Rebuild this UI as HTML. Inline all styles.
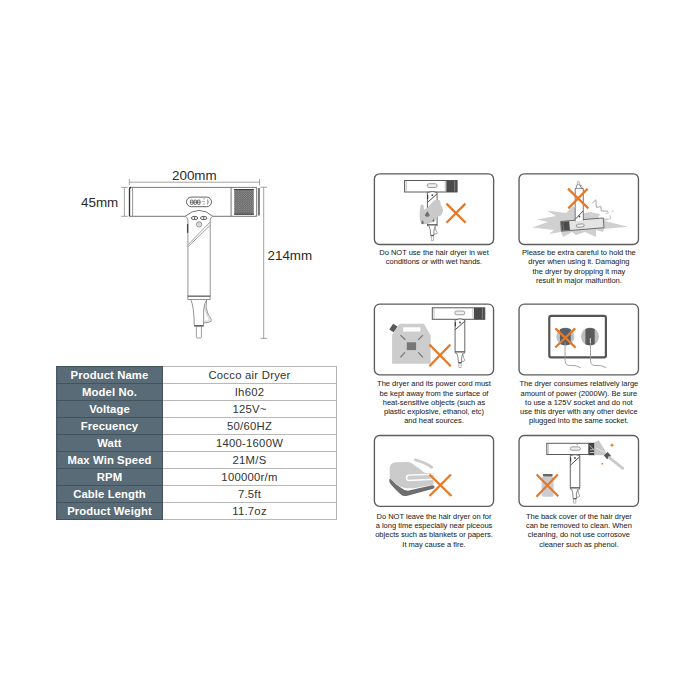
<!DOCTYPE html>
<html><head><meta charset="utf-8">
<style>
html,body{margin:0;padding:0;background:#fff;}
body{width:700px;height:700px;position:relative;overflow:hidden;font-family:"Liberation Sans",sans-serif;}
.abs{position:absolute;}
#draw{position:absolute;left:0;top:0;}
.dim{position:absolute;font-size:13.4px;color:#2a2a2a;white-space:nowrap;line-height:1;}
#spec{position:absolute;left:0;top:0;}
#spec .kbg{position:absolute;left:56px;top:365.7px;width:107px;height:153.7px;background:#596b77;box-shadow:inset 1.5px 0 0 #4d5b64;}
#spec .k,#spec .v{position:absolute;height:17px;line-height:18px;text-align:center;font-size:11.3px;white-space:nowrap;}
#spec .k{left:56px;width:107px;color:#fff;font-weight:bold;letter-spacing:0.1px;}
#spec .v{left:163px;width:173px;color:#333;letter-spacing:0.25px;}
#spec .hl{position:absolute;left:56px;width:280.3px;height:1.2px;background:linear-gradient(to right,#44525c 0,#44525c 107px,#b8b8b8 107px,#b8b8b8 100%);}
#spec .vr{position:absolute;left:335.5px;top:365.7px;width:1.2px;height:154px;background:#b4b4b4;}
#spec .vl{position:absolute;left:162.3px;top:365.7px;width:1px;height:154px;background:#44525c;}
.box{position:absolute;border:1.3px solid #606060;border-radius:6px;box-sizing:border-box;background:#fff;}
.cap{position:absolute;width:140px;text-align:center;font-size:7.5px;line-height:9.25px;color:#262626;white-space:nowrap;-webkit-text-stroke:0.05px #262626;}
</style></head><body>

<!-- Dimension labels -->
<div class="dim" style="left:172px;top:169px;">200mm</div>
<div class="dim" style="left:81px;top:196.4px;">45mm</div>
<div class="dim" style="left:267.5px;top:249px;">214mm</div>

<!-- Spec table -->
<div id="spec">
<div class="kbg"></div>
<div class="k" style="top:366.30px">Product Name</div><div class="v" style="top:366.30px">Cocco air Dryer</div>
<div class="k" style="top:383.31px">Model No.</div><div class="v" style="top:383.31px">Ih602</div>
<div class="k" style="top:400.32px">Voltage</div><div class="v" style="top:400.32px">125V~</div>
<div class="k" style="top:417.33px">Frecuency</div><div class="v" style="top:417.33px">50/60HZ</div>
<div class="k" style="top:434.34px">Watt</div><div class="v" style="top:434.34px">1400-1600W</div>
<div class="k" style="top:451.35px">Max Win Speed</div><div class="v" style="top:451.35px">21M/S</div>
<div class="k" style="top:468.36px">RPM</div><div class="v" style="top:468.36px">100000r/m</div>
<div class="k" style="top:485.37px">Cable Length</div><div class="v" style="top:485.37px">7.5ft</div>
<div class="k" style="top:502.38px">Product Weight</div><div class="v" style="top:502.38px">11.7oz</div>
<div class="hl" style="top:365.70px"></div>
<div class="hl" style="top:382.71px"></div>
<div class="hl" style="top:399.72px"></div>
<div class="hl" style="top:416.73px"></div>
<div class="hl" style="top:433.74px"></div>
<div class="hl" style="top:450.75px"></div>
<div class="hl" style="top:467.76px"></div>
<div class="hl" style="top:484.77px"></div>
<div class="hl" style="top:501.78px"></div>
<div class="hl" style="top:518.79px"></div>
<div class="vr"></div><div class="vl"></div></div>


<!-- Captions -->
<div class="cap" style="left:364px;top:248px;">Do NOT use the hair dryer in wet</div>
<div class="cap" style="left:364px;top:257px;">conditions or with wet hands.</div>
<div class="cap" style="left:508.9px;top:248px;">Please be extra careful to hold the</div>
<div class="cap" style="left:508.9px;top:257px;">dryer when using it. Damaging</div>
<div class="cap" style="left:508.9px;top:267px;">the dryer by dropping it may</div>
<div class="cap" style="left:508.9px;top:276px;">result in major malfuntion.</div>
<div class="cap" style="left:364px;top:379px;">The dryer and its power cord must</div>
<div class="cap" style="left:364px;top:389px;">be kept away from the surface of</div>
<div class="cap" style="left:364px;top:398px;">heat-sensitive objects (such as</div>
<div class="cap" style="left:364px;top:407px;">plastic explosive, ethanol, etc)</div>
<div class="cap" style="left:364px;top:416px;">and heat sources.</div>
<div class="cap" style="left:508.9px;top:379px;">The dryer consumes relatively large</div>
<div class="cap" style="left:508.9px;top:389px;">amount of power (2000W). Be sure</div>
<div class="cap" style="left:508.9px;top:398px;">to use a 125V socket and do not</div>
<div class="cap" style="left:508.9px;top:407px;">use this dryer with any other device</div>
<div class="cap" style="left:508.9px;top:416px;">plugged into the same socket.</div>
<div class="cap" style="left:364px;top:512px;">Do NOT leave the hair dryer on for</div>
<div class="cap" style="left:364px;top:521px;">a long time especially near piceous</div>
<div class="cap" style="left:364px;top:530px;">objects such as blankets or papers.</div>
<div class="cap" style="left:364px;top:540px;">It may cause a fire.</div>
<div class="cap" style="left:508.9px;top:512px;">The back cover of the hair dryer</div>
<div class="cap" style="left:508.9px;top:521px;">can be removed to clean. When</div>
<div class="cap" style="left:508.9px;top:530px;">cleaning, do not use corrosove</div>
<div class="cap" style="left:508.9px;top:540px;">cleaner such as phenol.</div>

<svg id="draw" width="700" height="700" viewBox="0 0 700 700">
<g id="boxes" fill="none" stroke="#5c5c5c" stroke-width="1.35"><rect x="374.4" y="173.8" width="119.20" height="70.70" rx="5.2"/><rect x="519.05" y="173.8" width="119.40" height="70.70" rx="5.2"/><rect x="374.4" y="304.1" width="119.15" height="70.70" rx="5.2"/><rect x="519.05" y="304.1" width="119.40" height="70.70" rx="5.2"/><rect x="374.4" y="435.5" width="119.15" height="70.80" rx="5.2"/><rect x="519.05" y="435.5" width="119.45" height="70.80" rx="5.2"/></g>
<g id="dryer" fill="none" stroke-linecap="butt">
  <!-- dimension lines -->
  <g stroke="#8a8a8a" stroke-width="0.8">
    <line x1="129.3" y1="182.2" x2="259.6" y2="182.2"/>
    <line x1="129.3" y1="179" x2="129.3" y2="185"/>
    <line x1="259.6" y1="179" x2="259.6" y2="185.5"/>
    <line x1="124.4" y1="187.4" x2="124.4" y2="216.3"/>
    <line x1="121.2" y1="187.4" x2="127.6" y2="187.4"/>
    <line x1="121.2" y1="216.3" x2="127.6" y2="216.3"/>
    <line x1="263.7" y1="187.2" x2="263.7" y2="338.4"/>
    <line x1="260.3" y1="187.2" x2="267" y2="187.2"/>
    <line x1="260.6" y1="338.4" x2="267.1" y2="338.4"/>
  </g>
  <!-- body -->
  <g stroke="#666" stroke-width="0.9">
    <line x1="129.4" y1="187.4" x2="256.7" y2="187.4"/>
    <line x1="129.4" y1="216.3" x2="185.3" y2="216.3"/>
    <line x1="212.9" y1="216.3" x2="256.7" y2="216.3"/>
    <line x1="132.6" y1="187.4" x2="132.6" y2="216.3" stroke="#888"/>
    <line x1="231.1" y1="187.4" x2="231.1" y2="216.3"/>
    <line x1="256.7" y1="187.4" x2="256.7" y2="216.3"/>
  </g>
  <path d="M129.5 216.3 V189 Q129.5 187.5 131 187.5" stroke="#333" stroke-width="1.3"/>
  <!-- grille -->
  <defs><pattern id="mesh" x="234.2" y="189.5" width="2.4" height="2.2" patternUnits="userSpaceOnUse">
    <rect width="2.4" height="2.2" fill="#5e5e5e"/><ellipse cx="0.6" cy="0.55" rx="0.6" ry="0.5" fill="#a8a8a8"/><ellipse cx="1.8" cy="1.65" rx="0.6" ry="0.5" fill="#a8a8a8"/>
  </pattern></defs>
  <rect x="234.2" y="189" width="19.6" height="25.7" fill="url(#mesh)"/>
  <rect x="234.2" y="189" width="19.6" height="1" fill="#3a3a3a"/>
  <rect x="234.2" y="213.7" width="19.6" height="1" fill="#3a3a3a"/>
  <!-- end cap -->
  <rect x="258" y="188" width="1.9" height="27.6" fill="#777"/>
  <!-- display -->
  <rect x="186.5" y="197.1" width="25" height="9.6" rx="4.8" stroke="#555" stroke-width="0.9"/>
  <rect x="190.4" y="200" width="2.7" height="4.4" rx="1.1" stroke="#444" stroke-width="0.8" fill="none"/><line x1="190.4" y1="202.2" x2="193.1" y2="202.2" stroke="#444" stroke-width="0.7"/><rect x="193.9" y="200" width="2.7" height="4.4" rx="1.1" stroke="#444" stroke-width="0.8" fill="none"/><line x1="193.9" y1="202.2" x2="196.6" y2="202.2" stroke="#444" stroke-width="0.7"/><rect x="197.4" y="200" width="2.7" height="4.4" rx="1.1" stroke="#444" stroke-width="0.8" fill="none"/><line x1="197.4" y1="202.2" x2="200.1" y2="202.2" stroke="#444" stroke-width="0.7"/>
  <g stroke="#777" stroke-width="0.6"><line x1="201.8" y1="201.5" x2="205" y2="201.5"/><line x1="203" y1="199" x2="205" y2="199"/><line x1="203" y1="204" x2="205" y2="204"/></g>
  <path d="M207.5 199.5 Q208.8 201.8 207.5 204.3" stroke="#555" stroke-width="0.8"/>
  <!-- handle -->
  <path d="M185.1 216.3 Q199.2 204.5 212.9 216.3" stroke="#666" stroke-width="0.9"/>
  <path d="M185.1 216.3 Q187.9 217.5 187.9 220 V296.1" stroke="#888" stroke-width="0.9"/>
  <path d="M212.9 216.3 Q210.2 217.5 210.2 220 V296.1" stroke="#888" stroke-width="0.9"/>
  <line x1="187.6" y1="224" x2="187.6" y2="232.8" stroke="#444" stroke-width="1.3"/>
  <path d="M188.2 244.6 L210.1 222.1 M188.2 246.6 L210.1 225.4" stroke="#888" stroke-width="0.8"/>
  <g stroke="#333" stroke-width="0.8">
    <ellipse cx="194.6" cy="218" rx="3.3" ry="1.6"/><ellipse cx="203.7" cy="218" rx="3.3" ry="1.6"/>
    <line x1="194.6" y1="216.6" x2="194.6" y2="219.4"/><line x1="203.7" y1="216.6" x2="203.7" y2="219.4"/>
  </g>
  <circle cx="199.1" cy="224.4" r="2.6" stroke="#555" stroke-width="0.7"/>
  <path d="M198.2 223.3 A1.2 1.2 0 1 0 200 223.3 M199.1 222.8 V224.2" stroke="#888" stroke-width="0.5"/>
  <!-- collar / neck / cable -->
  <rect x="187.9" y="296.1" width="22.2" height="3.3" stroke="#777" stroke-width="0.8"/>
  <line x1="187.9" y1="296.2" x2="210.1" y2="296.2" stroke="#444" stroke-width="0.8"/>
  <path d="M190.7 299.5 Q194 306 194.3 325.8 H203.6 V310 Q204.5 302 207.1 299.5" stroke="#777" stroke-width="0.8"/>
  <line x1="194.3" y1="325.9" x2="203.6" y2="325.9" stroke="#444" stroke-width="1.2"/>
  <path d="M196.4 326.5 V337.2 Q196.4 338 197.2 338 H200.6 Q201.4 338 201.4 337.2 V326.5" stroke="#888" stroke-width="0.8"/>
  <path d="M206.4 300.7 Q205 308 208 314 Q212 319.5 211 321.3 Q209 323 203.6 322.9" stroke="#777" stroke-width="0.8"/>
  <path d="M204.2 305 Q204.8 310 207.2 315 Q210 319.5 209.2 320.5 Q207.5 321.5 203.6 321.3" stroke="#999" stroke-width="0.5"/>
</g>
<defs>
  <g id="dry">
    <rect x="0.5" y="0.5" width="52.5" height="11.5" fill="#fff" stroke="#585858" stroke-width="1"/>
    <line x1="2.2" y1="1" x2="2.2" y2="11.5" stroke="#999" stroke-width="0.6"/>
    <line x1="41.2" y1="1" x2="41.2" y2="11.5" stroke="#999" stroke-width="0.7"/>
    <rect x="42.2" y="0.5" width="10.8" height="11.5" fill="#4a4a4a"/>
    <line x1="50.6" y1="1" x2="50.6" y2="11.5" stroke="#aaa" stroke-width="0.6"/>
    <rect x="23" y="3.7" width="10" height="3.8" rx="1.9" fill="#eee" stroke="#777" stroke-width="0.7"/>
    <path d="M23.3 12.5 Q28.2 10.6 33 12.5 V44.5 H23.3 Z" fill="#fff" stroke="#555" stroke-width="0.9"/>
    <line x1="23.6" y1="22.3" x2="32.8" y2="14" stroke="#333" stroke-width="0.9"/>
    <line x1="23.6" y1="15" x2="23.6" y2="19" stroke="#333" stroke-width="1.1"/>
    <circle cx="28.2" cy="15.2" r="0.9" fill="#444"/>
    <rect x="23.3" y="44.5" width="9.7" height="1.2" fill="#fff" stroke="#555" stroke-width="0.7"/>
    <path d="M24.8 45.8 Q26.5 49 26.6 55.3 H29.8 V51 Q30.3 47 31.4 45.8" fill="#fff" stroke="#555" stroke-width="0.7"/>
    <path d="M31 46.5 Q31.5 51 33.2 52.8 Q33 54.3 29.8 54.2" fill="none" stroke="#666" stroke-width="0.6"/>
    <line x1="26.6" y1="55.6" x2="29.8" y2="55.6" stroke="#444" stroke-width="0.9"/>
    <rect x="27.1" y="56" width="2.2" height="4.4" fill="#fff" stroke="#888" stroke-width="0.6"/>
  </g>
</defs>
<g id="ico1">
  <use href="#dry" x="404.1" y="180"/>
  <path d="M420.9 205 Q422.2 203.8 423.5 205 L424.1 209.7 L426.9 208.3 L434.2 200.3 H439.9 Q440.8 202.5 440.6 205.1 Q442.6 206.5 442.4 208.3 Q443.4 209.5 442.9 211.1 Q442.4 214 440.6 215.7 L436.9 217 Q436 220 434.7 221.6 L428.7 223.4 L424.5 224.3 Q421 223.8 419.8 220 Q419.2 214 420 209 Z" fill="#c9c9c9"/>
  <path d="M427.3 211.3 Q424.9 214.8 425 215.4 Q425.3 216.8 427.3 216.8 Q429.3 216.8 429.6 215.4 Q429.7 214.8 427.3 211.3 Z" fill="#6f6f6f"/>
  <path d="M422.5 220 Q421.1 222.5 421.2 223 Q421.4 224.2 422.5 224.2 Q423.6 224.2 423.8 223 Q423.9 222.5 422.5 220 Z" fill="#6f6f6f"/>
  <path d="M433.3 218.2 Q432.3 220.6 432.4 221 Q432.6 221.8 433.3 221.8 Q434 221.8 434.2 221 Q434.3 220.6 433.3 218.2 Z" fill="#6f6f6f"/>
  <path d="M446.4 203.6 L465.6 222.7 M465.4 203.6 L446.5 222.7" stroke="#e97824" stroke-width="2.3" fill="none"/>
</g>
<g id="ico2">
  <path d="M532 227.5 L548 222 L537 219.5 L556 216 L546.5 210.5 L566 213 L573 206 L580 214 L590 212 L600 214 L598 218 L612 218.5 L605 221 L628 226.7 L604 229 L603 232 L596 230 L596 237 L585 232 L576 235 L572 232 L563 237 L561 232 L549 234 L554 230 Z" fill="#d0d0d0"/>
  <g transform="rotate(-4.7 582 224.5)">
  <rect x="560.9" y="219.7" width="42.8" height="9.8" fill="#e4e4e4" stroke="#666" stroke-width="0.9"/>
  <rect x="561.3" y="220.1" width="8.2" height="9" fill="#4a4a4a"/>
  <line x1="563.2" y1="220.1" x2="563.2" y2="229.1" stroke="#888" stroke-width="0.6"/>
  <rect x="576.3" y="223.9" width="7.8" height="3" rx="1.5" fill="#f0f0f0" stroke="#777" stroke-width="0.7"/>
  </g>
  <path d="M575.2 221.2 V188.5 H583.3 V220.5" fill="#fff" stroke="#555" stroke-width="0.8"/>
  <path d="M576 188.3 Q576.8 186 577.2 184.3 H579.6 Q580.2 186 581.5 188.3" fill="#fff" stroke="#555" stroke-width="0.7"/>
  <path d="M582 188 Q582.5 186 581 185 L579.8 185.2" fill="none" stroke="#777" stroke-width="0.5"/>
  <path d="M577.4 184.2 V181.6 Q578.3 181 579.3 181.6 V184.2" fill="#fff" stroke="#888" stroke-width="0.6"/>
  <line x1="575.5" y1="219" x2="583" y2="211" stroke="#444" stroke-width="0.9"/>
  <circle cx="579.5" cy="216.5" r="0.9" fill="#444"/>
  <polyline points="592.3,203.1 595.8,199.8 596.4,207.4 600.9,206.6 601.3,210.9 608.1,211.3" fill="none" stroke="#8a8a8a" stroke-width="0.75"/>
  <path d="M611.5 211.7 L613.8 210.5 M605.5 213.5 L609 212.8 M610 215.2 L610.5 218.5" stroke="#999" stroke-width="0.6"/>
  <path d="M568 188.7 L588.4 208.4 M587.6 188.7 L568.3 208.4" stroke="#e97824" stroke-width="2.3" fill="none"/>
</g>
<g id="ico3">
  <path d="M392.1 363.7 V334.8 L399.6 323.7 H423.9 L430.7 335.5 V363.7 Z" fill="#cdcdcd"/>
  <rect x="390.8" y="324.5" width="5.2" height="7" fill="#585858" transform="rotate(33.7 393.4 328)"/>
  <rect x="403.2" y="327.3" width="17.2" height="4.3" fill="#fff"/>
  <rect x="406.8" y="342.3" width="9.3" height="7.8" fill="#777"/>
  <path d="M400.4 335.1 L405.4 339.8 M422.9 335.1 L418.2 339.8 M400.4 357.3 L405 352.3 M422.9 357.3 L418.2 352.3" stroke="#777" stroke-width="1.2"/>
  <use href="#dry" x="431.8" y="307.3"/>
  <path d="M429.4 344.5 L450.8 366.2 M450.4 344.5 L429.4 366.2" stroke="#e97824" stroke-width="2.3" fill="none"/>
</g>
<g id="ico4">
  <rect x="549.3" y="315.9" width="56.6" height="41.4" rx="1.8" fill="none" stroke="#555" stroke-width="2.2"/>
  <circle cx="565.4" cy="336.6" r="9" fill="#b9c1c5"/>
  <path d="M560 329.3 Q565.4 326.6 570.8 329.3 V344 Q565.4 346.6 560 344 Z" fill="#56606a"/>
  <circle cx="590" cy="336.6" r="9" fill="#bdbdbd"/>
  <path d="M585.4 329 Q590 326.8 594.7 329 V344.2 Q590 346.4 585.4 344.2 Z" fill="#5a5a5a"/>
  <path d="M565.1 342 V360.5 Q565.3 366 570.5 365.5 Q576 364.8 580.7 367.7" fill="none" stroke="#999" stroke-width="0.9"/>
  <path d="M590.5 338.5 V360.5 Q590.7 366 596 365.5 Q601.5 364.8 606.3 367.7" fill="none" stroke="#999" stroke-width="0.9"/>
  <line x1="590.3" y1="338" x2="590.3" y2="343" stroke="#ddd" stroke-width="0.9"/>
  <path d="M555.4 328.4 L575.6 347.7 M575.2 328.4 L555.3 347.5" stroke="#e97824" stroke-width="2.3" fill="none"/>
</g>
<g id="ico5">
  <path d="M389.3 480 Q389.2 478.3 390.8 478.8 Q396 485 403.5 489.6 Q406 490.9 409 490.6 L432 485.3 Q434.6 485.2 434.6 487 Q434.6 488.4 432.3 488.9 L406.5 496 Q403 496.6 400.5 494.2 Q393 487.5 389.9 483 Q389.3 482 389.3 480 Z" fill="#6e6e6e"/>
  <path d="M389.7 468.6 Q389.9 462.8 395.7 462.3 L408.3 462 Q411.5 462.8 414.2 464.9 L420.9 469.7 Q422.8 471.5 424.6 472.7 L433.5 473.2 V484.4 L415.7 488 Q410 488.4 404.6 488 Q399 486.8 395.7 484.2 L390.5 479 Q389.7 477.5 389.7 476 Z" fill="#cbcbcb"/>
  <path d="M405.8 477.8 Q405.8 474.9 408.6 474.6 L433.5 473.4 V480.1 L408.6 481.2 Q405.8 481 405.8 477.8 Z" fill="#fff"/>
  <path d="M407.3 477.9 Q407.3 475.9 409 475.8 L433.5 474.9 V478.6 L409 479.8 Q407.3 479.7 407.3 477.9 Z" fill="#cbcbcb"/>
  <path d="M415.3 459.9 Q425 462.3 431.8 467.3" stroke="#cbcbcb" stroke-width="2.7" stroke-linecap="round" fill="none"/>
  <path d="M429.5 474.5 L451.5 496 M451 474.5 L429.5 496" stroke="#e97824" stroke-width="2.3" fill="none"/>
</g>
<g id="ico6">
  <rect x="541.6" y="476.6" width="12" height="20.1" rx="2" fill="#c9cdd1"/>
  <rect x="542.9" y="474" width="9.8" height="2.4" rx="0.8" fill="#666"/>
  <path d="M536.6 474.5 L558.3 496.3 M557.8 474.5 L536.4 496.7" stroke="#e97824" stroke-width="2.3" fill="none"/>
  <g>
    <rect x="546.8" y="443.3" width="42" height="11.2" fill="#fff" stroke="#5a5a5a" stroke-width="1"/>
    <line x1="548.3" y1="443.8" x2="548.3" y2="454.2" stroke="#999" stroke-width="0.6"/>
    <rect x="588.8" y="442.8" width="6.5" height="12.4" fill="#444"/>
    <path d="M589.8 445.5 L594 449.8 H590 M589.8 452.5 H594.5" stroke="#ddd" stroke-width="0.8" fill="none"/>
    <rect x="570.3" y="446.9" width="10" height="3.4" rx="1.7" fill="#eee" stroke="#777" stroke-width="0.7"/>
    <path d="M570.3 455.5 Q575 453.7 579.8 455.5 V487.7 H570.3 Z" fill="#fff" stroke="#555" stroke-width="0.9"/>
    <line x1="570.6" y1="465" x2="579.5" y2="457" stroke="#333" stroke-width="0.9"/>
    <line x1="570.6" y1="457.5" x2="570.6" y2="461.5" stroke="#333" stroke-width="1.1"/>
    <circle cx="575" cy="458" r="0.9" fill="#444"/>
    <rect x="570.3" y="487.7" width="9.4" height="1.2" fill="#fff" stroke="#555" stroke-width="0.7"/>
    <path d="M571.6 489 Q573 492 573.2 498.6 H576.4 V494 Q577 490.5 578.2 489" fill="#fff" stroke="#555" stroke-width="0.7"/>
    <path d="M577.8 489.6 Q578.3 494 579.8 496 Q579.6 497.5 576.4 497.3" fill="none" stroke="#666" stroke-width="0.6"/>
    <line x1="573.2" y1="498.8" x2="576.4" y2="498.8" stroke="#444" stroke-width="0.9"/>
    <rect x="573.7" y="499.2" width="2.2" height="3.8" fill="#fff" stroke="#888" stroke-width="0.6"/>
  </g>
  <path d="M594.2 442.6 L598.7 440.3 L606.2 452.6 L603.5 455.2 L594.2 455 Z" fill="#c8c8c8"/>
  <path d="M596 448 L604 452" stroke="#fff" stroke-width="0.5"/>
  <rect x="604.8" y="453" width="5.2" height="5.2" fill="#555" transform="rotate(50 607.4 455.6)"/>
  <line x1="609.3" y1="457.6" x2="622.8" y2="468.3" stroke="#c8c8c8" stroke-width="2.8" stroke-linecap="round"/>
  <path d="M612 442.8 L612.7 444.6 L614.5 445.2 L612.7 445.8 L612 447.6 L611.3 445.8 L609.5 445.2 L611.3 444.6 Z" fill="#e97824"/>
  <circle cx="602.3" cy="463.7" r="0.9" fill="#e97824"/>
  <circle cx="577.3" cy="444.6" r="0.6" fill="#e97824"/>
</g>
<!--ICONS-END-->
</svg>
</body></html>
